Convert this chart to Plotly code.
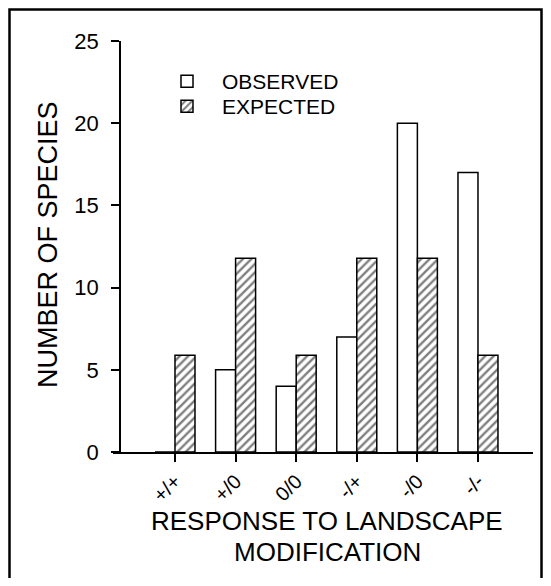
import plotly.graph_objects as go

categories = ["+/+", "+/0", "0/0", "-/+", "-/0", "-/-"]
observed = [0, 5, 4, 7, 20, 17]
expected = [5.89, 11.78, 5.89, 11.78, 11.78, 5.89]
y_ticks = [0, 5, 10, 15, 20, 25]

O = 8  # page body margin offset
W, H = 551 - 2 * O, 586 - 2 * O
# plot area in screen pixels: x 113..533, y 41..452
L, R, T, B = 113 - O, W - (533 - O), 41 - O, H - (452 - O)
PW = W - L - R
PH = H - T - B

def px(sx):
    return (sx - O - L) / PW

def py(sy):
    return (H - B - (sy - O)) / PH

FONT = "Arial, Liberation Sans, Helvetica, sans-serif"

fig = go.Figure()
fig.add_trace(go.Bar(
    x=categories, y=observed, name="OBSERVED", legend="legend",
    width=0.33, offset=-0.33,
    marker=dict(color="white", line=dict(color="black", width=1.5)),
))
fig.add_trace(go.Bar(
    x=categories, y=expected, name="EXPECTED", legend="legend2",
    width=0.33, offset=0,
    marker=dict(color="white", line=dict(color="black", width=1.5),
                pattern=dict(shape="/", fgcolor="black", bgcolor="white",
                             size=6, solidity=0.4)),
))

leg = dict(xanchor="left", yanchor="top",
           font=dict(size=21, family=FONT, color="black"),
           itemwidth=60, bgcolor="rgba(0,0,0,0)")

fig.update_layout(
    width=W, height=H,
    margin=dict(l=L, r=R, t=T, b=B, pad=0),
    paper_bgcolor="white", plot_bgcolor="white",
    barmode="overlay",
    font=dict(family=FONT, color="black"),
    showlegend=True,
    legend=dict(leg, x=px(152), y=py(61)),
    legend2=dict(leg, x=px(152), y=py(86)),
    xaxis=dict(
        type="category", categoryorder="array", categoryarray=categories,
        range=[-1.023, 5.908],
        showline=True, linecolor="black", linewidth=1.5,
        ticks="outside", ticklen=8, tickwidth=1.5, tickcolor="black",
        tickangle=-45, tickfont=dict(size=20, family=FONT, color="black"),
        showgrid=False, zeroline=False,
    ),
    yaxis=dict(
        range=[0, 25], tickvals=y_ticks, ticktext=[str(v) for v in y_ticks],
        anchor="free", position=7 / PW,
        showline=True, linecolor="black", linewidth=1.5,
        ticks="outside", ticklen=8, tickwidth=1.5, tickcolor="black",
        tickfont=dict(size=22, family=FONT, color="black"),
        ticklabelstandoff=8,
        showgrid=False, zeroline=False,
    ),
    annotations=[
        dict(text="NUMBER OF SPECIES", xref="paper", yref="paper",
             x=px(48), y=py(245), xanchor="center", yanchor="middle",
             textangle=-90, showarrow=False,
             font=dict(size=27, family=FONT, color="black")),
        dict(text="RESPONSE TO LANDSCAPE", xref="paper", yref="paper",
             x=px(327), y=py(521), xanchor="center", yanchor="middle",
             showarrow=False, font=dict(size=26, family=FONT, color="black")),
        dict(text="MODIFICATION", xref="paper", yref="paper",
             x=px(327), y=py(552), xanchor="center", yanchor="middle",
             showarrow=False, font=dict(size=26, family=FONT, color="black")),
    ],
    shapes=[
        dict(type="rect", xref="paper", yref="paper",
             x0=px(9.5), x1=px(541.5), y0=py(600), y1=py(9.5),
             line=dict(color="black", width=2.5), fillcolor="rgba(0,0,0,0)"),
    ],
)

fig.write_html("out.html")
